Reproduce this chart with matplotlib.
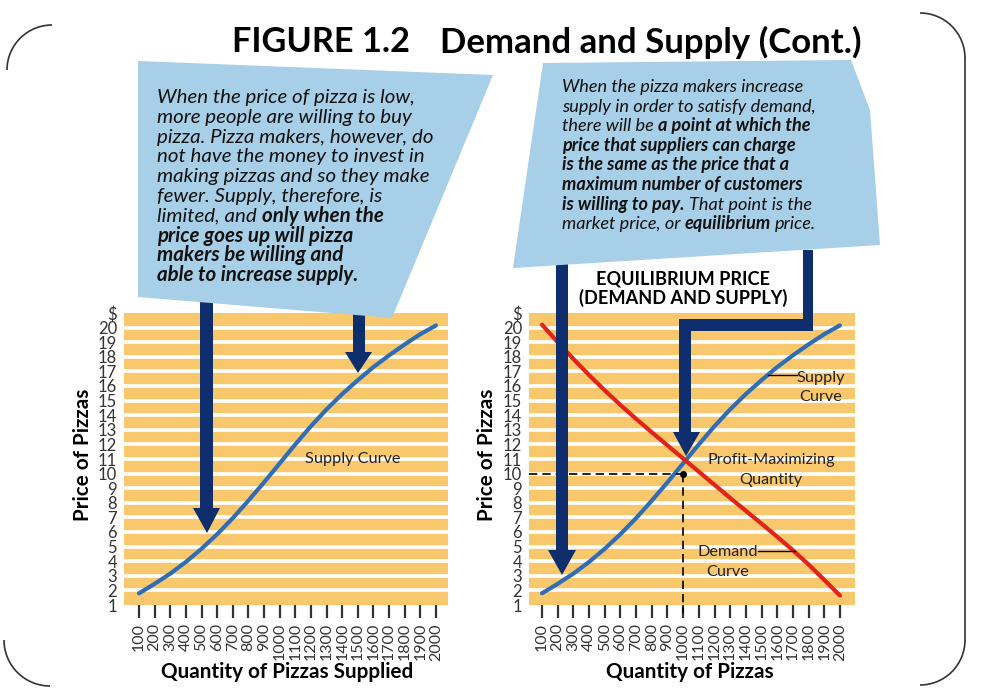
import numpy as np
import matplotlib
matplotlib.use("Agg")
import matplotlib.pyplot as plt
from matplotlib.patches import Polygon, Arc

# values
qty = [100, 200, 300, 400, 500, 600, 700, 800, 900, 1000,
       1100, 1200, 1300, 1400, 1500, 1600, 1700, 1800, 1900, 2000]
supply_price = [1.8, 2.45, 3.15, 3.95, 4.85, 5.85, 6.95, 8.15, 9.4, 10.7,
                12.0, 13.25, 14.4, 15.45, 16.4, 17.3, 18.1, 18.85, 19.55, 20.15]
demand_price = [20.2, 19.0, 17.85, 16.75, 15.7, 14.7, 13.75, 12.83, 11.93, 11.03,
                10.13, 9.23, 8.33, 7.45, 6.57, 5.67, 4.75, 3.77, 2.72, 1.65]
price_ticks = list(range(1, 22))
price_labels = [str(p) for p in range(1, 21)] + ["$"]
eq_qty = 1000
eq_price = 10

left_lines = [
    [("When the price of pizza is low,", False)],
    [("more people are willing to buy", False)],
    [("pizza. Pizza makers, however, do", False)],
    [("not have the money to invest in", False)],
    [("making pizzas and so they make", False)],
    [("fewer. Supply, therefore, is", False)],
    [("limited, and", False), ("only when the", True)],
    [("price goes up will pizza", True)],
    [("makers be willing and", True)],
    [("able to increase supply.", True)],
]
right_lines = [
    [("When the pizza makers increase", False)],
    [("supply in order to satisfy demand,", False)],
    [("there will be", False), ("a point at which the", True)],
    [("price that suppliers can charge", True)],
    [("is the same as the price that a", True)],
    [("maximum number of customers", True)],
    [("is willing to pay.", True), (" That point is the", False)],
    [("market price, or", False), ("equilibrium", True), ("price.", False)],
]

ORANGE = "#F9C86C"
NAVY = "#0E2E6D"
BOXBLUE = "#A7CFE7"
SUPPLY = "#2F6DB5"
DEMAND = "#E2231A"
FONT = "Lato"

W, H = 982, 688
plt.rcParams["font.family"] = FONT
fig = plt.figure(figsize=(W / 100, H / 100), dpi=100)
renderer = fig.canvas.get_renderer()


def px_axes(x0, y0, x1, y1):
    return fig.add_axes([x0 / W, 1 - y1 / H, (x1 - x0) / W, (y1 - y0) / H])


def chart(ax, xlim):
    ax.set_facecolor(ORANGE)
    ax.set_xlim(*xlim)
    ax.set_ylim(1, 21)
    for p in range(2, 21):
        ax.axhline(p, color="white", lw=2.6, zorder=1)
    ax.set_yticks(price_ticks)
    ax.set_yticklabels(price_labels, fontsize=12)
    ax.set_xticks(qty)
    ax.set_xticklabels([str(q) for q in qty], rotation=90, fontsize=11.5)
    ax.tick_params(axis="y", length=0, pad=5, colors="#333")
    ax.tick_params(axis="x", length=9, width=1.6, pad=4, color="#333",
                   labelcolor="#333")
    for s in ax.spines.values():
        s.set_visible(False)
    ax.plot(qty, supply_price, color=SUPPLY, lw=3, zorder=3,
            solid_capstyle="round", solid_joinstyle="round")


axl = px_axes(124, 313, 448, 605)
chart(axl, (4, 2077))
axr = px_axes(529, 313, 855, 605)
chart(axr, (17, 2096))
axr.plot(qty, demand_price, color=DEMAND, lw=3, zorder=3,
         solid_capstyle="round", solid_joinstyle="round")
axr.plot([17, eq_qty], [eq_price, eq_price], color="k", lw=1.2,
         dashes=(5, 3), zorder=4)
axr.plot([eq_qty, eq_qty], [eq_price, 0.45], color="k", lw=1.2,
         dashes=(5, 3), zorder=4, clip_on=False)
axr.plot(eq_qty, eq_price, "ko", ms=4, zorder=5)

# overlay in pixel coordinates
ax0 = fig.add_axes([0, 0, 1, 1])
ax0.set_xlim(0, W)
ax0.set_ylim(H, 0)
ax0.axis("off")
ax0.patch.set_alpha(0)
ax0.set_zorder(5)


def text_width(s, size, **kw):
    t = ax0.text(0, 0, s, fontsize=size, **kw)
    w = t.get_window_extent(renderer).width
    t.remove()
    return w


def fit(s, target, **kw):
    return 10 * target / text_width(s, 10, **kw)


# chart labels
lab = fit("Profit-Maximizing", 128)
axl.text(1160, 11.0, "Supply Curve", fontsize=lab, color="#222",
         va="center", zorder=6)
axr.text(1879, 16.55, "Supply", fontsize=lab, color="#222", ha="center",
         va="center", zorder=6)
axr.text(1879, 15.25, "Curve", fontsize=lab, color="#222", ha="center",
         va="center", zorder=6)
axr.plot([1541, 1726], [16.75, 16.75], color="k", lw=1, zorder=4)
axr.text(1560, 10.93, "Profit-Maximizing", fontsize=lab, color="#222",
         ha="center", va="center", zorder=6)
axr.text(1560, 9.56, "Quantity", fontsize=lab, color="#222", ha="center",
         va="center", zorder=6)
axr.text(1286, 4.63, "Demand", fontsize=lab, color="#222", ha="center",
         va="center", zorder=6)
axr.text(1286, 3.26, "Curve", fontsize=lab, color="#222", ha="center",
         va="center", zorder=6)
axr.plot([1478, 1714], [4.7, 4.7], color="k", lw=1, zorder=4)

# axis titles
s = fit("Quantity of Pizzas Supplied", 252, weight="bold")
ax0.text(287, 672, "Quantity of Pizzas Supplied", fontsize=s, weight="bold",
         ha="center", va="center")
ax0.text(690, 672, "Quantity of Pizzas", fontsize=s, weight="bold",
         ha="center", va="center")
ax0.text(83, 455, "Price of Pizzas", fontsize=s, weight="bold", rotation=90,
         ha="center", va="center")
ax0.text(487, 455, "Price of Pizzas", fontsize=s, weight="bold", rotation=90,
         ha="center", va="center")

# title
s = fit("FIGURE 1.2", 178, weight="bold")
ax0.text(232, 42, "FIGURE 1.2", fontsize=s, weight="bold", va="center")
s = fit("Demand and Supply (Cont.)", 422, weight="bold")
ax0.text(440, 42, "Demand and Supply (Cont.)", fontsize=s, weight="bold",
         va="center")

# callout boxes
ax0.add_patch(Polygon([(138, 61), (493, 75), (392, 318), (138, 297)],
                      closed=True, fc=BOXBLUE, ec="none", zorder=3))
ax0.add_patch(Polygon([(543, 63), (851, 60), (870, 110), (880, 245),
                       (513, 268)], closed=True, fc=BOXBLUE, ec="none",
                      zorder=3))

# arrows
arrows = [
    [(200, 300), (213, 300), (213, 508), (220, 508), (207, 533),
     (193, 508), (200, 508)],
    [(353, 310), (365, 310), (365, 352), (372, 352), (358, 373),
     (345, 352), (353, 352)],
    [(556, 262), (568, 262), (568, 550), (576, 550), (562, 575),
     (548, 550), (556, 550)],
    [(803, 250), (813, 250), (813, 331), (691, 331), (691, 432),
     (700, 432), (686, 456), (673, 432), (679, 432), (679, 319),
     (803, 319)],
]
for pts in arrows:
    ax0.add_patch(Polygon(pts, closed=True, fc=NAVY, ec="none", zorder=2))

s = fit("EQUILIBRIUM PRICE", 174, weight="bold")
ax0.text(683, 279, "EQUILIBRIUM PRICE", fontsize=s, weight="bold",
         ha="center", va="center")
ax0.text(683, 298, "(DEMAND AND SUPPLY)", fontsize=s, weight="bold",
         ha="center", va="center")

# callout text
gap = text_width("x x", 10, style="italic") - text_width("xx", 10, style="italic")


def runs(x, y, parts, size):
    for txt, bold in parts:
        t = ax0.text(x, y, txt.strip(), fontsize=size, style="italic",
                     weight="bold" if bold else "normal", color="#111",
                     va="baseline", zorder=4)
        x += t.get_window_extent(renderer).width + gap * size / 10


s = fit("When the price of pizza is low,", 258, style="italic")
for i, parts in enumerate(left_lines):
    runs(157, 103 + 19.8 * i, parts, s)
s = fit("When the pizza makers increase", 241, style="italic")
for i, parts in enumerate(right_lines):
    runs(562, 92 + 19.6 * i, parts, s)

# slide frame corners
kw = dict(color="#333", lw=1.2)
ax0.add_patch(Arc((52, 70), 90, 90, theta1=180, theta2=270, **kw))
ax0.add_patch(Arc((50, 640), 92, 92, theta1=90, theta2=180, **kw))
ax0.add_patch(Arc((920, 58), 90, 90, theta1=270, theta2=360, **kw))
ax0.add_patch(Arc((920, 640), 90, 90, theta1=0, theta2=90, **kw))
ax0.plot([965, 965], [58, 640], **kw)

fig.savefig("out.png", dpi=100)
